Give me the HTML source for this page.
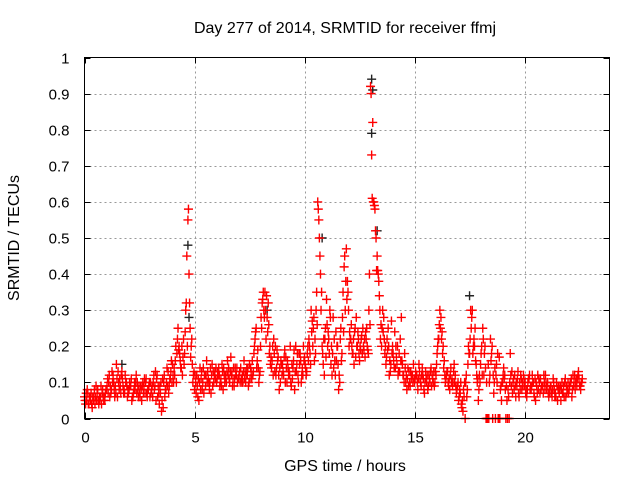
<!DOCTYPE html>
<html><head><meta charset="utf-8"><style>
body{margin:0;background:#fff;}
svg{display:block;font-family:"Liberation Sans",sans-serif;}
</style></head><body>
<svg id="chart" width="640" height="480" viewBox="0 0 640 480">
<rect width="640" height="480" fill="#fff"/>
<text x="345" y="33" font-size="16" text-anchor="middle">Day 277 of 2014, SRMTID for receiver ffmj</text>
<text transform="translate(19,238) rotate(-90)" font-size="16" text-anchor="middle">SRMTID / TECUs</text>
<text x="345" y="471" font-size="16" text-anchor="middle">GPS time / hours</text>
<g id="grid"></g>
<g id="ticks"></g>
<g id="marks"></g>
<rect x="84.5" y="57.5" width="525" height="361" fill="none" stroke="#000" stroke-width="1"/>
</svg>
<script>
const xTicks=[0,5,10,15,20];
const yTicks=[0,0.1,0.2,0.3,0.4,0.5,0.6,0.7,0.8,0.9,1];
const yTickLabels=["0","0.1","0.2","0.3","0.4","0.5","0.6","0.7","0.8","0.9","1"];
const seriesAStart=0.0, seriesBStart=0.05, seriesCStart=0.025, seriesDStart=0.075, step=0.1;
const seriesA=[0.06,0.05,0.04,0.07,0.05,0.06,0.08,0.05,0.07,0.06,
0.08,0.1,0.07,0.12,0.09,0.06,0.11,0.13,0.08,0.1,
0.07,0.09,0.06,0.08,0.1,0.07,0.05,0.09,0.11,0.08,
0.1,0.06,0.09,0.12,0.04,0.02,0.1,0.08,0.13,0.11,
0.15,0.12,0.18,0.2,0.14,0.22,0.3,0.55,0.25,0.15,
0.08,0.12,0.05,0.11,0.14,0.09,0.13,0.1,0.15,0.12,
0.1,0.14,0.11,0.08,0.12,0.16,0.1,0.13,0.09,0.12,
0.11,0.14,0.1,0.13,0.12,0.15,0.11,0.18,0.25,0.14,
0.2,0.33,0.35,0.28,0.18,0.14,0.22,0.12,0.17,0.1,
0.15,0.19,0.1,0.13,0.09,0.16,0.2,0.12,0.18,0.14,
0.17,0.13,0.22,0.3,0.25,0.18,0.6,0.45,0.2,0.12,
0.33,0.22,0.15,0.28,0.12,0.2,0.1,0.18,0.42,0.47,
0.3,0.22,0.18,0.25,0.2,0.16,0.23,0.19,0.22,0.18,
0.92,0.82,0.58,0.45,0.34,0.2,0.28,0.15,0.25,0.13,
0.2,0.24,0.15,0.18,0.28,0.12,0.1,0.14,0.09,0.12,
0.1,0.12,0.15,0.09,0.11,0.13,0.08,0.1,0.12,0.09,
0.15,0.22,0.28,0.2,0.1,0.13,0.08,0.11,0.15,0.07,
0.05,0.1,0.02,0.0,0.08,0.18,0.28,0.22,0.15,0.05,
0.15,0.25,0.2,0.0,0.1,0.18,0.07,0.12,0.0,0.08,
0.1,0.12,0.05,0.0,0.09,0.11,0.06,0.13,0.08,0.1,
0.09,0.06,0.11,0.08,0.1,0.05,0.12,0.07,0.09,0.1,
0.08,0.06,0.09,0.11,0.07,0.05,0.08,0.1,0.06,0.09,
0.07,0.1,0.12,0.08,0.11,0.09,0.1];
const seriesB=[0.04,0.07,0.06,0.03,0.08,0.05,0.04,0.09,0.06,0.07,
0.11,0.06,0.13,0.08,0.15,0.1,0.07,0.09,0.12,0.06,
0.1,0.05,0.08,0.12,0.06,0.09,0.1,0.07,0.06,0.1,
0.08,0.12,0.05,0.09,0.07,0.11,0.06,0.14,0.09,0.16,
0.1,0.2,0.25,0.16,0.12,0.18,0.45,0.4,0.2,0.12,
0.1,0.06,0.14,0.08,0.12,0.16,0.1,0.07,0.13,0.11,
0.13,0.09,0.15,0.12,0.1,0.14,0.17,0.11,0.14,0.1,
0.13,0.1,0.16,0.12,0.09,0.14,0.12,0.22,0.16,0.12,
0.25,0.3,0.22,0.32,0.15,0.2,0.13,0.19,0.08,0.15,
0.12,0.17,0.14,0.2,0.11,0.08,0.15,0.18,0.1,0.2,
0.14,0.2,0.18,0.27,0.16,0.35,0.55,0.3,0.15,0.25,
0.2,0.3,0.12,0.22,0.16,0.08,0.25,0.35,0.3,0.38,
0.24,0.2,0.15,0.28,0.22,0.19,0.25,0.17,0.2,0.4,
0.73,0.6,0.5,0.4,0.22,0.3,0.18,0.22,0.12,0.27,
0.16,0.2,0.12,0.22,0.15,0.18,0.08,0.13,0.11,0.15,
0.13,0.08,0.11,0.14,0.07,0.1,0.12,0.14,0.1,0.13,
0.2,0.3,0.24,0.16,0.12,0.09,0.14,0.1,0.12,0.09,
0.08,0.03,0.06,0.12,0.2,0.3,0.18,0.25,0.1,0.12,
0.2,0.12,0.0,0.15,0.22,0.0,0.14,0.1,0.17,0.05,
0.14,0.0,0.08,0.18,0.07,0.12,0.09,0.06,0.11,0.12,
0.07,0.1,0.08,0.12,0.06,0.09,0.11,0.08,0.07,0.12,
0.1,0.07,0.06,0.08,0.1,0.09,0.05,0.07,0.11,0.08,
0.09,0.06,0.1,0.11,0.13,0.08];
const seriesC=[0.05,0.08,0.06,0.04,0.06,0.09,0.05,0.06,0.08,0.05,
0.09,0.12,0.08,0.1,0.07,0.13,0.09,0.11,0.07,0.09,
0.08,0.11,0.07,0.1,0.08,0.06,0.09,0.11,0.07,0.09,
0.07,0.1,0.13,0.06,0.09,0.05,0.12,0.1,0.07,0.13,
0.12,0.16,0.22,0.18,0.2,0.15,0.32,0.58,0.17,0.1,
0.12,0.09,0.1,0.13,0.07,0.12,0.11,0.14,0.09,0.13,
0.11,0.12,0.09,0.14,0.11,0.12,0.13,0.09,0.11,0.14,
0.12,0.11,0.13,0.1,0.14,0.11,0.16,0.2,0.14,0.1,
0.28,0.35,0.3,0.24,0.2,0.16,0.18,0.14,0.12,0.16,
0.13,0.1,0.16,0.12,0.15,0.19,0.13,0.1,0.16,0.12,
0.15,0.18,0.2,0.24,0.28,0.3,0.58,0.4,0.18,0.22,
0.26,0.18,0.2,0.14,0.24,0.15,0.22,0.28,0.45,0.33,
0.2,0.26,0.22,0.17,0.24,0.2,0.18,0.22,0.25,0.3,
0.9,0.6,0.52,0.41,0.3,0.25,0.22,0.17,0.2,0.15,
0.18,0.14,0.2,0.13,0.16,0.1,0.12,0.09,0.13,0.1,
0.11,0.1,0.13,0.12,0.08,0.11,0.09,0.13,0.11,0.1,
0.18,0.26,0.22,0.14,0.11,0.1,0.12,0.09,0.1,0.08,
0.06,0.04,0.08,0.1,0.15,0.22,0.3,0.2,0.12,0.08,
0.18,0.22,0.14,0.0,0.12,0.2,0.1,0.15,0.0,0.09,
0.12,0.08,0.0,0.1,0.13,0.08,0.1,0.07,0.12,0.09,
0.1,0.08,0.12,0.09,0.07,0.1,0.08,0.11,0.09,0.08,
0.09,0.08,0.07,0.1,0.06,0.08,0.09,0.07,0.1,0.07,
0.08,0.11,0.09,0.1,0.12,0.09,0.11];
const seriesD=[0.07,0.04,0.05,0.06,0.04,0.07,0.06,0.04,0.05,0.08,
0.07,0.09,0.1,0.06,0.11,0.08,0.12,0.07,0.1,0.08,
0.09,0.06,0.1,0.07,0.09,0.08,0.07,0.1,0.08,0.06,
0.09,0.08,0.11,0.07,0.1,0.03,0.08,0.09,0.11,0.1,
0.14,0.1,0.19,0.14,0.17,0.24,0.2,0.32,0.22,0.13,
0.07,0.11,0.08,0.1,0.12,0.1,0.08,0.12,0.1,0.14,
0.12,0.1,0.13,0.1,0.13,0.11,0.12,0.14,0.12,0.11,
0.1,0.12,0.11,0.14,0.1,0.13,0.13,0.24,0.19,0.13,
0.32,0.28,0.34,0.26,0.17,0.12,0.2,0.16,0.14,0.12,
0.17,0.14,0.12,0.1,0.14,0.13,0.18,0.15,0.12,0.16,
0.12,0.16,0.15,0.2,0.22,0.26,0.5,0.35,0.22,0.17,
0.24,0.28,0.18,0.16,0.2,0.12,0.16,0.24,0.38,0.35,
0.22,0.18,0.24,0.2,0.18,0.22,0.2,0.24,0.19,0.26,
0.61,0.59,0.41,0.38,0.26,0.24,0.2,0.19,0.16,0.18,
0.14,0.17,0.13,0.16,0.12,0.14,0.11,0.1,0.12,0.11,
0.12,0.11,0.1,0.12,0.1,0.12,0.11,0.09,0.13,0.12,
0.22,0.25,0.18,0.12,0.13,0.11,0.1,0.13,0.09,0.1,
0.07,0.05,0.1,0.06,0.18,0.25,0.2,0.16,0.11,0.1,
0.12,0.18,0.1,0.0,0.16,0.12,0.0,0.18,0.0,0.1,
0.11,0.09,0.06,0.12,0.1,0.09,0.11,0.1,0.08,0.11,
0.08,0.11,0.09,0.1,0.11,0.07,0.1,0.09,0.12,0.1,
0.07,0.09,0.08,0.06,0.09,0.07,0.08,0.09,0.06,0.1,
0.1,0.08,0.12,0.09,0.11,0.1];
const blackTimes=[1.7,4.7,8.3,10.8,13.05,13.05,13.3,17.5,13.1,4.75];
const blackValues=[0.15,0.48,0.3,0.5,0.94,0.79,0.52,0.34,0.91,0.28];

const X0=84.5,X1=609.5,Y0=418.5,Y1=57.5,XMAX=23.86;
function sx(t){return X0+(t/XMAX)*(X1-X0);}
function sy(v){return Y0-v*(Y0-Y1);}
const NS="http://www.w3.org/2000/svg";
const grid=document.getElementById('grid'),ticks=document.getElementById('ticks'),marks=document.getElementById('marks');
function line(p,x1,y1,x2,y2,stroke,dash){const l=document.createElementNS(NS,'line');l.setAttribute('x1',x1);l.setAttribute('y1',y1);l.setAttribute('x2',x2);l.setAttribute('y2',y2);l.setAttribute('stroke',stroke);if(dash)l.setAttribute('stroke-dasharray',dash);p.appendChild(l);return l;}
yTicks.forEach((v,i)=>{const y=Math.round(sy(v))+0.5;
 if(v>0&&v<1){const g=line(grid,X0,y,X1,y,'#999','2,3');
 
 }
 line(ticks,X0,y,X0+6,y,'#000');line(ticks,X1,y,X1-6,y,'#000');
 const t=document.createElementNS(NS,'text');t.setAttribute('x',X0-15);t.setAttribute('y',y+5);t.setAttribute('font-size','15');t.setAttribute('text-anchor','end');t.textContent=yTickLabels[i];
 
 
 ticks.appendChild(t);});
xTicks.forEach(v=>{const x=Math.round(sx(v))+0.5;
 if(v>0){const g=line(grid,x,Y0,x,Y1,'#999','2,3');
 
 }
 line(ticks,x,Y0,x,Y0-6,'#000');line(ticks,x,Y1,x,Y1+6,'#000');
 const t=document.createElementNS(NS,'text');t.setAttribute('x',x);t.setAttribute('y',Y0+24);t.setAttribute('font-size','15');t.setAttribute('text-anchor','middle');t.textContent=String(v);
 
 
 ticks.appendChild(t);});
function plus(t,v,color,name){const x=sx(t),y=sy(v);const p=document.createElementNS(NS,'path');
 p.setAttribute('d',`M${x-4.5},${y}H${x+4.5}M${x},${y-4.5}V${y+4.5}`);p.setAttribute('stroke',color);p.setAttribute('stroke-width','1.4');p.setAttribute('fill','none');
 
 
 marks.appendChild(p);}
blackTimes.forEach((t,i)=>plus(t,blackValues[i],'#222','point-black'));
seriesA.forEach((v,i)=>plus(seriesAStart+i*step,v,'#f00','point-red'));
seriesB.forEach((v,i)=>plus(seriesBStart+i*step,v,'#f00','point-red'));
seriesC.forEach((v,i)=>plus(seriesCStart+i*step,v,'#f00','point-red'));
seriesD.forEach((v,i)=>plus(seriesDStart+i*step,v,'#f00','point-red'));
</script>
</body></html>
